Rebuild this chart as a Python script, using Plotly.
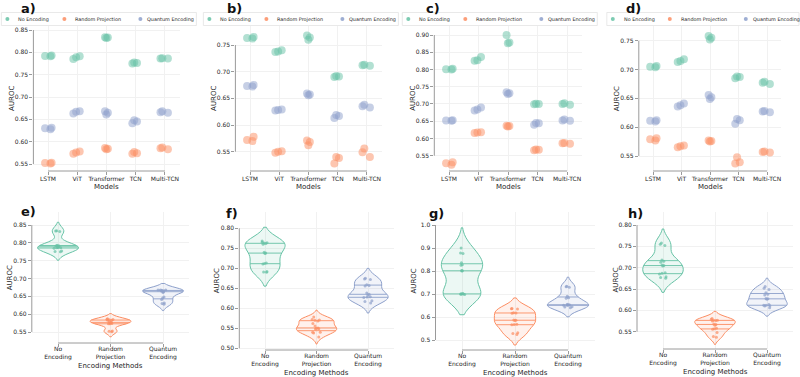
import numpy as np
import plotly.graph_objects as go

# ---------------- data ----------------
models = ["LSTM", "ViT", "Transformer", "TCN", "Multi-TCN"]
encodings = ["No Encoding", "Random Projection", "Quantum Encoding"]
encoding_ticktext = ["No<br>Encoding", "Random<br>Projection", "Quantum<br>Encoding"]
panel_labels = ["a)", "b)", "c)", "d)", "e)", "f)", "g)", "h)"]

# AUROC per model (3 runs each), panel a / e
a_no_encoding = [[0.792, 0.793, 0.791], [0.791, 0.789, 0.785], [0.834, 0.832, 0.833],
                 [0.776, 0.777, 0.775], [0.786, 0.787, 0.786]]
a_random_projection = [[0.551, 0.553, 0.552], [0.573, 0.576, 0.578], [0.583, 0.586, 0.584],
                       [0.574, 0.577, 0.573], [0.583, 0.587, 0.585]]
a_quantum_encoding = [[0.628, 0.630, 0.631], [0.663, 0.667, 0.668], [0.668, 0.665, 0.661],
                      [0.641, 0.645, 0.648], [0.665, 0.668, 0.666]]

# panel b / f
b_no_encoding = [[0.765, 0.763, 0.762], [0.738, 0.740, 0.737], [0.768, 0.760, 0.764],
                 [0.691, 0.692, 0.690], [0.711, 0.712, 0.713]]
b_random_projection = [[0.578, 0.572, 0.570], [0.551, 0.548, 0.550], [0.571, 0.568, 0.562],
                       [0.540, 0.538, 0.528], [0.549, 0.556, 0.540]]
b_quantum_encoding = [[0.675, 0.672, 0.673], [0.628, 0.629, 0.627], [0.657, 0.659, 0.656],
                      [0.613, 0.617, 0.619], [0.638, 0.633, 0.635]]

# panel c / g
c_no_encoding = [[0.802, 0.800, 0.801], [0.836, 0.827, 0.825], [0.900, 0.876, 0.878],
                 [0.700, 0.701, 0.699], [0.702, 0.700, 0.698]]
c_random_projection = [[0.528, 0.531, 0.524], [0.617, 0.616, 0.618], [0.636, 0.637, 0.635],
                       [0.567, 0.566, 0.568], [0.586, 0.587, 0.585]]
c_quantum_encoding = [[0.652, 0.653, 0.651], [0.690, 0.684, 0.681], [0.734, 0.731, 0.729],
                      [0.644, 0.645, 0.640], [0.655, 0.652, 0.651]]

# panel d / h
d_no_encoding = [[0.705, 0.706, 0.704], [0.718, 0.713, 0.715], [0.758, 0.752, 0.755],
                 [0.688, 0.685, 0.687], [0.679, 0.675, 0.677]]
d_random_projection = [[0.581, 0.577, 0.579], [0.568, 0.565, 0.567], [0.577, 0.576, 0.575],
                       [0.537, 0.548, 0.539], [0.558, 0.557, 0.556]]
d_quantum_encoding = [[0.611, 0.610, 0.612], [0.641, 0.636, 0.638], [0.656, 0.652, 0.649],
                      [0.614, 0.606, 0.612], [0.627, 0.626, 0.628]]

# y tick labels
a_yticks = [0.55, 0.60, 0.65, 0.70, 0.75, 0.80, 0.85]
b_yticks = [0.55, 0.60, 0.65, 0.70, 0.75]
c_yticks = [0.55, 0.60, 0.65, 0.70, 0.75, 0.80, 0.85, 0.90]
d_yticks = [0.55, 0.60, 0.65, 0.70, 0.75]
e_yticks = [0.55, 0.60, 0.65, 0.70, 0.75, 0.80, 0.85]
f_yticks = [0.50, 0.55, 0.60, 0.65, 0.70, 0.75, 0.80]
g_yticks = [0.5, 0.6, 0.7, 0.8, 0.9, 1.0]
h_yticks = [0.55, 0.60, 0.65, 0.70, 0.75, 0.80]

# ---------------- style / layout ----------------
W, H = 800, 377
colors = ["#66c2a5", "#fc8d62", "#8da0cb"]
FONT = "DejaVu Sans"
SPINE = "#9a9a9a"
GRID = "#f1f1f1"
TXT = "#262626"


def rgba(hexc, a):
    h = hexc.lstrip("#")
    return "rgba(%d,%d,%d,%.2f)" % (int(h[0:2], 16), int(h[2:4], 16), int(h[4:6], 16), a)


def px(p):
    return p / W


def py(p):
    return 1 - p / H


top_data = [
    [a_no_encoding, a_random_projection, a_quantum_encoding],
    [b_no_encoding, b_random_projection, b_quantum_encoding],
    [c_no_encoding, c_random_projection, c_quantum_encoding],
    [d_no_encoding, d_random_projection, d_quantum_encoding],
]
yticks_all = [a_yticks, b_yticks, c_yticks, d_yticks, e_yticks, f_yticks, g_yticks, h_yticks]
tickfmt = ["%.2f"] * 6 + ["%.1f", "%.2f"]

# geometry (pixels): left, right, top, bottom, (v1,p1), (v2,p2)
geom = [
    (33.4, 179.6, 26, 171, (0.85, 30), (0.55, 164)),
    (235.4, 381.6, 26, 171, (0.75, 45), (0.55, 151.7)),
    (434.3, 581.8, 26, 171, (0.90, 35), (0.55, 155.7)),
    (638.8, 781.3, 26, 171, (0.75, 40.7), (0.55, 156)),
    (31.8, 189.3, 212, 343, (0.85, 225), (0.55, 332)),
    (239.3, 393.8, 212, 350, (0.80, 228.3), (0.50, 348.3)),
    (435.5, 594.5, 212, 350, (1.0, 225), (0.5, 340)),
    (637.0, 793.0, 212, 349, (0.80, 225), (0.55, 331.7)),
]
label_pos = [(29, 8), (234, 8), (433, 8), (633, 8), (28, 211), (232, 213), (436, 213), (635, 213)]

fig = go.Figure()
shapes = []
annotations = []
layout_axes = {}

for k in range(8):
    s = "" if k == 0 else str(k + 1)
    left, right, top, bottom, (v1, p1), (v2, p2) = geom[k]
    slope = (v2 - v1) / (p2 - p1)
    y_lo = v1 + (bottom - p1) * slope
    y_hi = v1 + (top - p1) * slope
    is_top = k < 4
    cats = models if is_top else encodings
    ticks = yticks_all[k]

    layout_axes["xaxis" + s] = dict(
        domain=[px(left), px(right)], anchor="y" + s, type="category",
        categoryorder="array", categoryarray=cats, range=[-0.5, len(cats) - 0.5],
        showline=False, zeroline=False, showgrid=True, gridcolor=GRID, gridwidth=0.8,
        ticks="outside", ticklen=3, tickwidth=1, tickcolor=SPINE,
        tickfont=dict(size=6, color=TXT, family=FONT),
        ticklabelstandoff=-1 if is_top else -3,
        tickvals=None if is_top else encodings,
        ticktext=None if is_top else encoding_ticktext,
    )
    layout_axes["yaxis" + s] = dict(
        domain=[py(bottom), py(top)], anchor="x" + s, range=[y_lo, y_hi],
        showline=False, zeroline=False, showgrid=True, gridcolor=GRID, gridwidth=0.8,
        tickvals=ticks, ticktext=[tickfmt[k] % t for t in ticks],
        ticks="outside", ticklen=3, tickwidth=1, tickcolor=SPINE,
        tickfont=dict(size=6, color=TXT, family=FONT),
    )
    # trimmed spines
    shapes.append(dict(type="line", xref="x" + s + " domain", yref="y" + s,
                       x0=0, x1=0, y0=min(ticks), y1=max(ticks),
                       line=dict(color=SPINE, width=1)))
    shapes.append(dict(type="line", xref="x" + s, yref="y" + s + " domain",
                       x0=0, x1=len(cats) - 1, y0=0, y1=0,
                       line=dict(color=SPINE, width=1)))

    # axis titles
    xt = "Models" if is_top else "Encoding Methods"
    annotations.append(dict(text=xt, x=px((left + right) / 2), y=py(bottom + (16 if is_top else 23)),
                            xref="paper", yref="paper", showarrow=False, xanchor="center", yanchor="middle",
                            font=dict(size=7, color=TXT, family=FONT)))
    annotations.append(dict(text="AUROC", x=px(left - 22), y=py((top + bottom) / 2),
                            xref="paper", yref="paper", showarrow=False, textangle=-90,
                            xanchor="center", yanchor="middle",
                            font=dict(size=7, color=TXT, family=FONT)))
    lx, ly = label_pos[k]
    annotations.append(dict(text="<b>%s</b>" % panel_labels[k], x=px(lx), y=py(ly),
                            xref="paper", yref="paper", showarrow=False,
                            xanchor="center", yanchor="middle",
                            font=dict(size=13, color="#111", family=FONT)))

    if is_top:
        for j, enc in enumerate(encodings):
            vals = top_data[k][j]
            xs = [m for m, v in zip(models, vals) for _ in v]
            ys = [y for v in vals for y in v]
            fig.add_trace(go.Box(
                x=xs, y=ys, xaxis="x" + s, yaxis="y" + s, name=enc,
                boxpoints="all", jitter=0.7, pointpos=0, width=0.45,
                fillcolor="rgba(0,0,0,0)", line=dict(color="rgba(0,0,0,0)", width=0),
                whiskerwidth=0,
                marker=dict(color=colors[j], size=8, opacity=0.5, line=dict(width=0)),
                showlegend=False, hoverinfo="y"))
        # manual legend
        m0 = left - 26
        ly0 = 19
        shapes.append(dict(type="rect", xref="paper", yref="paper",
                           x0=px(m0 - 6), x1=px(min(m0 + 189, 799)), y0=py(25.5), y1=py(12.5),
                           line=dict(color="#e3e3e3", width=0.8), fillcolor="rgba(255,255,255,0.8)",
                           layer="below"))
        for j, enc in enumerate(encodings):
            mx = m0 + [0, 57, 133][j]
            shapes.append(dict(type="circle", xref="paper", yref="paper",
                               x0=px(mx - 2), x1=px(mx + 2), y0=py(ly0 + 2), y1=py(ly0 - 2),
                               line=dict(width=0), fillcolor=rgba(colors[j], 0.85)))
            annotations.append(dict(text=enc, x=px(m0 + [9, 66, 138][j]), y=py(ly0),
                                    xref="paper", yref="paper", showarrow=False,
                                    xanchor="left", yanchor="middle",
                                    font=dict(size=4.9, color=TXT, family=FONT)))
    else:
        src = top_data[k - 4]
        vw = 0.78
        for j, enc in enumerate(encodings):
            vals = np.array([y for v in src[j] for y in v])
            n = len(vals)
            bw = np.std(vals, ddof=1) * n ** (-0.2)
            fig.add_trace(go.Violin(
                x=[enc] * n, y=vals, xaxis="x" + s, yaxis="y" + s, name=enc,
                width=vw, bandwidth=bw, spanmode="soft", scalemode="width",
                points="all", pointpos=0, jitter=0.25,
                marker=dict(color=colors[j], size=3, opacity=0.7, line=dict(width=0)),
                line=dict(color=colors[j], width=1), fillcolor=rgba(colors[j], 0.12),
                box_visible=False, meanline_visible=False, showlegend=False, hoverinfo="y"))
            grid = np.linspace(vals.min() - 2 * bw, vals.max() + 2 * bw, 600)

            def dens(x):
                z = (np.atleast_1d(x)[:, None] - vals[None, :]) / bw
                return np.exp(-0.5 * z ** 2).sum(1)

            dmax = dens(grid).max()
            for q in np.percentile(vals, [25, 50, 75]):
                hw = 0.5 * vw * dens(q)[0] / dmax
                shapes.append(dict(type="line", xref="x" + s, yref="y" + s,
                                   x0=j - hw, x1=j + hw, y0=q, y1=q,
                                   line=dict(color=colors[j], width=0.9)))

fig.update_layout(
    width=W, height=H, margin=dict(l=0, r=0, t=0, b=0),
    paper_bgcolor="white", plot_bgcolor="white",
    font=dict(family=FONT, color=TXT),
    boxmode="overlay", violinmode="overlay",
    shapes=shapes, annotations=annotations, showlegend=False,
    **layout_axes,
)
fig.write_html("out.html",
               config={"displayModeBar": False},
               post_script="document.body.style.margin='0';document.body.style.padding='0';"
                           "document.body.style.overflow='hidden';")
